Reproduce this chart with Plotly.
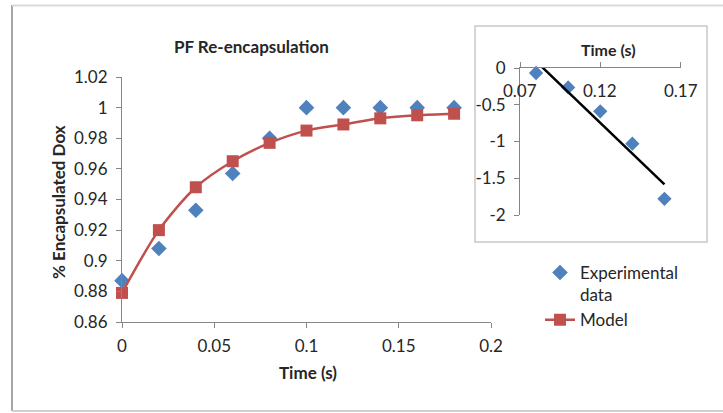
import numpy as np
import plotly.graph_objects as go

W, H = 723, 413

# Main panel: encapsulated fraction over time
time_s = [0, 0.02, 0.04, 0.06, 0.08, 0.10, 0.12, 0.14, 0.16, 0.18]
experimental = [0.887, 0.908, 0.933, 0.957, 0.980, 1.0, 1.0, 1.0, 1.0, 1.0]
model = [0.879, 0.920, 0.948, 0.965, 0.977, 0.985, 0.989, 0.993, 0.995, 0.996]

# Inset: linearised data with least-squares trendline
inset_time = [0.08, 0.10, 0.12, 0.14, 0.16]
inset_values = [-0.068, -0.264, -0.59, -1.03, -1.78]

main_x_ticks = [0, 0.05, 0.1, 0.15, 0.2]
main_x_labels = ["0", "0.05", "0.1", "0.15", "0.2"]
main_y_ticks = [0.86, 0.88, 0.9, 0.92, 0.94, 0.96, 0.98, 1.0, 1.02]
main_y_labels = ["0.86", "0.88", "0.9", "0.92", "0.94", "0.96", "0.98", "1", "1.02"]
inset_x_ticks = [0.07, 0.12, 0.17]
inset_x_labels = ["0.07", "0.12", "0.17"]
inset_y_ticks = [0, -0.5, -1, -1.5, -2]
inset_y_labels = ["0", "-0.5", "-1", "-1.5", "-2"]

BLUE = "#4F81BD"
RED = "#C0504D"
AXIS = "#868686"
TXT = "#262626"
FONT = "Lato"
TICK_SIZE = 17
TITLE_SIZE = 17


def px_x(p):
    return p / W


def px_y(p):
    return 1 - p / H


slope, intercept = np.polyfit(inset_time, inset_values, 1)
fit_x = [inset_time[0], inset_time[-1]]
fit_y = [slope * v + intercept for v in fit_x]

fig = go.Figure()

fig.add_trace(go.Scatter(
    x=time_s, y=experimental, mode="markers", name="Experimental<br>data",
    legendgroup="exp",
    marker=dict(symbol="diamond", size=12, color=BLUE),
    cliponaxis=False, xaxis="x", yaxis="y",
))
fig.add_trace(go.Scatter(
    x=time_s, y=model, mode="lines+markers", name="Model",
    legendgroup="mod",
    line=dict(color=RED, width=2.5, shape="spline", smoothing=0.8),
    marker=dict(symbol="square", size=12, color=RED),
    cliponaxis=False, xaxis="x", yaxis="y",
))
fig.add_trace(go.Scatter(
    x=inset_time, y=inset_values, mode="markers", showlegend=False,
    marker=dict(symbol="diamond", size=11, color=BLUE),
    cliponaxis=False, xaxis="x2", yaxis="y2",
))
fig.add_trace(go.Scatter(
    x=fit_x, y=fit_y, mode="lines", showlegend=False,
    line=dict(color="black", width=2.5),
    xaxis="x2", yaxis="y2",
))

tickfont = dict(family=FONT, size=TICK_SIZE, color=TXT)
axis_common = dict(
    showgrid=False, zeroline=False, showline=True, linecolor=AXIS, linewidth=1,
    ticks="outside", ticklen=5, tickcolor=AXIS, tickfont=tickfont,
    automargin=False,
)

fig.update_layout(
    width=W, height=H,
    margin=dict(l=0, r=0, t=0, b=0, autoexpand=False),
    paper_bgcolor="white", plot_bgcolor="rgba(0,0,0,0)",
    font=dict(family=FONT, color=TXT),
    xaxis=dict(
        domain=[px_x(122), px_x(491)], range=[0, 0.2],
        tickvals=main_x_ticks, ticktext=main_x_labels, ticklabelstandoff=4,
        anchor="y", **axis_common,
    ),
    yaxis=dict(
        domain=[px_y(322), px_y(77)], range=[0.86, 1.02],
        tickvals=main_y_ticks, ticktext=main_y_labels, ticklabelstandoff=5,
        anchor="x", **axis_common,
    ),
    xaxis2=dict(
        domain=[px_x(520), px_x(680.5)], range=[0.07, 0.17],
        tickvals=inset_x_ticks, showticklabels=False, side="top",
        anchor="y2", **axis_common,
    ),
    yaxis2=dict(
        domain=[px_y(215), px_y(68)], range=[-2, 0],
        tickvals=inset_y_ticks, ticktext=inset_y_labels, ticklabelstandoff=5,
        anchor="x2", **axis_common,
    ),
    legend=dict(
        x=px_x(540), y=px_y(255), xanchor="left", yanchor="top",
        bgcolor="rgba(0,0,0,0)", font=dict(family=FONT, size=TICK_SIZE, color=TXT),
        traceorder="grouped", tracegroupgap=0, itemwidth=30, valign="top",
    ),
    showlegend=True,
)

annotations = [
    dict(text="<b>PF Re-encapsulation</b>", x=px_x(251), y=px_y(46),
         xref="paper", yref="paper", font=dict(size=TITLE_SIZE)),
    dict(text="<b>% Encapsulated Dox</b>", x=px_x(58), y=px_y(202),
         xref="paper", yref="paper", textangle=-90, font=dict(size=TITLE_SIZE)),
    dict(text="<b>Time (s)</b>", x=px_x(308), y=px_y(372),
         xref="paper", yref="paper", font=dict(size=TITLE_SIZE)),
    dict(text="<b>Time (s)</b>", x=px_x(608), y=px_y(49),
         xref="paper", yref="paper", font=dict(size=16)),
]
# inset x tick labels sit just below the axis line at y = 0
for v, lab in zip(inset_x_ticks, inset_x_labels):
    annotations.append(dict(text=lab, x=v, y=0, xref="x2", yref="y2",
                            yshift=-23, font=dict(size=TICK_SIZE)))
for a in annotations:
    a.update(showarrow=False, xanchor="center", yanchor="middle")
    a["font"].update(family=FONT, color=TXT)
fig.update_layout(annotations=annotations)

shapes = [
    # outer chart frame
    dict(type="line", x0=px_x(12), x1=px_x(12), y0=px_y(5), y1=px_y(411),
         line=dict(color="#A6A6A6", width=2)),
    dict(type="line", x0=px_x(12), x1=1.0, y0=px_y(5.5), y1=px_y(5.5),
         line=dict(color="#D9D9D9", width=2)),
    dict(type="line", x0=px_x(12), x1=1.0, y0=px_y(411), y1=px_y(411),
         line=dict(color="#D0D0D0", width=2)),
    # inset frame
    dict(type="rect", x0=px_x(475), x1=px_x(707), y0=px_y(242), y1=px_y(26),
         line=dict(color="#C8C8C8", width=1.5), fillcolor="rgba(0,0,0,0)"),
]
for s in shapes:
    s.update(xref="paper", yref="paper", layer="above")
fig.update_layout(shapes=shapes)

fig.write_html("out.html")
